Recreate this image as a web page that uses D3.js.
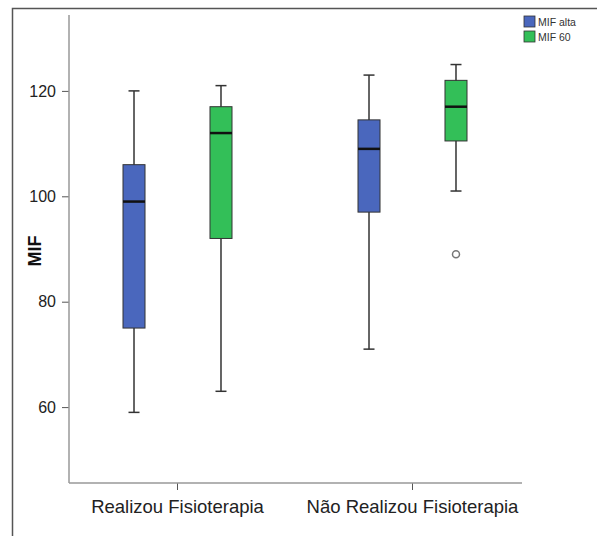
<!DOCTYPE html>
<html>
<head>
<meta charset="utf-8">
<title>MIF boxplot</title>
<script src="https://cdn.jsdelivr.net/npm/d3@7"></script>
<style>
  body { margin: 0; background: #fff; font-family: "Liberation Sans", Arial, sans-serif; }
  .tick text { fill: #222; }
</style>
</head>
<body>
<script>
// groups along the x axis and the two series
var groups = ["Realizou Fisioterapia", "Não Realizou Fisioterapia"];
var series = ["MIF alta", "MIF 60"];
var colors = ["#4a67bd", "#33bf58"];

// five-number summaries [min, q1, median, q3, max]
var mifAlta = [[59, 75, 99, 106, 120], [71, 97, 109, 114.5, 123]];
var mif60   = [[63, 92, 112, 117, 121], [101, 110.5, 117, 122, 125]];
var outliers60 = [[], [89]];
var yTicks = [60, 80, 100, 120];

var width = 597, height = 536;
var m = { left: 69, right: 522, top: 15, bottom: 483 };

var svg = d3.select("body").append("svg")
    .attr("width", width)
    .attr("height", height);

// outer frame
svg.append("path")
    .attr("d", "M12.5," + height + "V8.5H" + width)
    .attr("fill", "none")
    .attr("stroke", "#555")
    .attr("stroke-width", 1.5);

var y = d3.scaleLinear().domain([45.6, 134.4]).range([m.bottom, m.top]);
var x = d3.scaleBand().domain(groups).range([60, 530]);
var xs = d3.scaleBand().domain(series).range([-54.5, 54.5]).paddingInner(0.747).paddingOuter(0);

// y axis
var yAxis = svg.append("g")
    .attr("transform", "translate(" + m.left + ",0)")
    .call(d3.axisLeft(y).tickValues(yTicks).tickSize(7).tickPadding(6).tickSizeOuter(0));
yAxis.select(".domain").remove();
yAxis.selectAll(".tick line").attr("stroke", "#555");
yAxis.selectAll(".tick text").attr("font-size", 16).attr("font-family", "Liberation Sans, Arial, sans-serif");
svg.append("line")
    .attr("x1", m.left).attr("x2", m.left).attr("y1", m.top).attr("y2", m.bottom)
    .attr("stroke", "#999").attr("stroke-width", 1.5);

// x axis
var xAxis = svg.append("g")
    .attr("transform", "translate(0," + m.bottom + ")")
    .call(d3.axisBottom(x).tickSize(7).tickPadding(10).tickSizeOuter(0));
xAxis.select(".domain").remove();
xAxis.selectAll(".tick line").attr("stroke", "#555");
xAxis.selectAll(".tick text").attr("font-size", 18.5).attr("font-family", "Liberation Sans, Arial, sans-serif");
svg.append("line")
    .attr("x1", m.left).attr("x2", m.right).attr("y1", m.bottom).attr("y2", m.bottom)
    .attr("stroke", "#999").attr("stroke-width", 1.5);

// y title
svg.append("text")
    .attr("transform", "translate(41," + ((m.top + m.bottom) / 2 + 2) + ") rotate(-90)")
    .attr("text-anchor", "middle")
    .attr("font-size", 18)
    .attr("font-weight", "bold")
    .attr("fill", "#111")
    .text("MIF");

// boxes
var allSeries = [mifAlta, mif60];
allSeries.forEach(function(data, si) {
  groups.forEach(function(g, gi) {
    var s = data[gi];
    var bw = xs.bandwidth();
    var x0 = x(g) + x.bandwidth() / 2 + xs(series[si]);
    var cx = x0 + bw / 2;
    var box = svg.append("g");
    box.append("line")
        .attr("x1", cx).attr("x2", cx).attr("y1", y(s[0])).attr("y2", y(s[4]))
        .attr("stroke", "#333").attr("stroke-width", 1.5);
    [s[0], s[4]].forEach(function(v) {
      box.append("line")
          .attr("x1", cx - bw / 4).attr("x2", cx + bw / 4).attr("y1", y(v)).attr("y2", y(v))
          .attr("stroke", "#333").attr("stroke-width", 1.5);
    });
    box.append("rect")
        .attr("x", x0).attr("width", bw)
        .attr("y", y(s[3])).attr("height", y(s[1]) - y(s[3]))
        .attr("fill", colors[si]).attr("stroke", "#333").attr("stroke-width", 1);
    box.append("line")
        .attr("x1", x0).attr("x2", x0 + bw).attr("y1", y(s[2])).attr("y2", y(s[2]))
        .attr("stroke", "#111").attr("stroke-width", 2.5);
  });
});

// outliers
groups.forEach(function(g, gi) {
  var cx = x(g) + x.bandwidth() / 2 + xs(series[1]) + xs.bandwidth() / 2;
  outliers60[gi].forEach(function(v) {
    svg.append("circle")
        .attr("cx", cx).attr("cy", y(v)).attr("r", 3.5)
        .attr("fill", "#fff").attr("stroke", "#777").attr("stroke-width", 1.5);
  });
});

// legend
var legend = svg.append("g").attr("transform", "translate(524,16)");
series.forEach(function(name, i) {
  var row = legend.append("g").attr("transform", "translate(0," + (i * 15) + ")");
  row.append("rect")
      .attr("width", 11).attr("height", 11)
      .attr("fill", colors[i]).attr("stroke", "#333").attr("stroke-width", 0.8);
  row.append("text")
      .attr("x", 14).attr("y", 9.5)
      .attr("font-size", 10.5)
      .attr("fill", "#333")
      .text(name);
});
</script>
</body>
</html>
